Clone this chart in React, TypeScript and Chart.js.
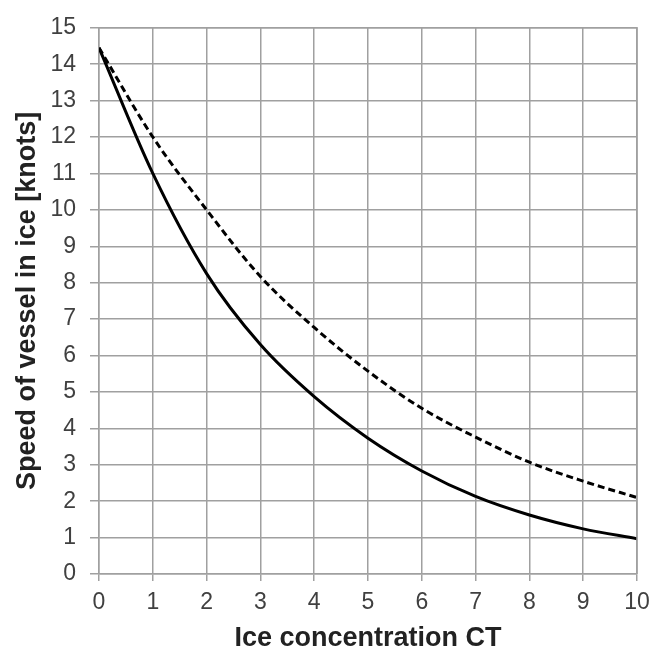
import React, { useEffect, useRef } from "react";
import { Chart, registerables } from "chart.js";

Chart.register(...registerables);

const concentration = [0, 1, 2, 3, 4, 5, 6, 7, 8, 9, 10];
const speedSolid = [14.45, 11.0, 8.25, 6.3, 4.87, 3.73, 2.83, 2.13, 1.62, 1.24, 0.97];
const speedDashed = [14.45, 12.0, 10.0, 8.17, 6.77, 5.57, 4.55, 3.76, 3.07, 2.55, 2.1];
const xTitle = "Ice concentration CT";
const yTitle = "Speed of vessel in ice [knots]";

export default function App() {
  const ref = useRef<HTMLCanvasElement>(null);
  useEffect(() => {
    document.body.style.margin = "0";
    const ctx = ref.current!;
    const grid = "#a0a0a0";
    const tickFont = { family: "'Liberation Sans', Arial, sans-serif", size: 23 };
    const titleFont = { family: "'Liberation Sans', Arial, sans-serif", size: 27, weight: "bold" as const };
    const chart = new Chart(ctx, {
      type: "line",
      data: {
        datasets: [
          {
            label: "solid",
            data: concentration.map((x, i) => ({ x, y: speedSolid[i] })),
            borderColor: "#000",
            borderWidth: 3,
            pointRadius: 0,
            cubicInterpolationMode: "monotone",
            fill: false,
          },
          {
            label: "dashed",
            data: concentration.map((x, i) => ({ x, y: speedDashed[i] })),
            borderColor: "#000",
            borderWidth: 3,
            borderDash: [7, 4],
            pointRadius: 0,
            cubicInterpolationMode: "monotone",
            fill: false,
          },
        ],
      },
      options: {
        animation: false,
        responsive: false,
        devicePixelRatio: 1,
        layout: { padding: { top: 22, right: 25, left: 0, bottom: 0 } },
        plugins: { legend: { display: false }, tooltip: { enabled: false } },
        scales: {
          x: {
            type: "linear",
            min: 0,
            max: 10,
            afterFit: (s: any) => { s.height = 81; },
            ticks: { stepSize: 1, color: "#404040", font: tickFont, padding: 8, maxRotation: 0 },
            grid: { color: grid, lineWidth: 1.5, tickLength: 7, tickColor: grid },
            border: { color: grid, width: 1.5 },
            title: { display: true, text: xTitle, color: "#222", font: titleFont, padding: { top: 0, bottom: 0 } },
          },
          y: {
            type: "linear",
            min: 0,
            max: 15,
            afterFit: (s: any) => { s.width = 99; },
            ticks: { stepSize: 1, color: "#404040", font: tickFont, padding: 14 },
            grid: { color: grid, lineWidth: 1.5, tickLength: 9, tickColor: grid },
            border: { color: grid, width: 1.5 },
            title: { display: true, text: yTitle, color: "#222", font: titleFont, padding: { top: 11, bottom: 0 } },
          },
        } as any,
      },
      plugins: [
        {
          id: "frame",
          afterDraw(c: any) {
            const { ctx: g, chartArea: a } = c;
            g.save();
            g.strokeStyle = grid;
            g.lineWidth = 1.5;
            g.beginPath();
            g.moveTo(a.left, a.top);
            g.lineTo(a.right, a.top);
            g.lineTo(a.right, a.bottom);
            g.stroke();
            g.restore();
          },
        },
      ],
    });
    return () => chart.destroy();
  }, []);
  return (
    <div style={{ width: 662, height: 655, background: "#fff" }}>
      <canvas ref={ref} width={662} height={655} style={{ display: "block" }} />
    </div>
  );
}
